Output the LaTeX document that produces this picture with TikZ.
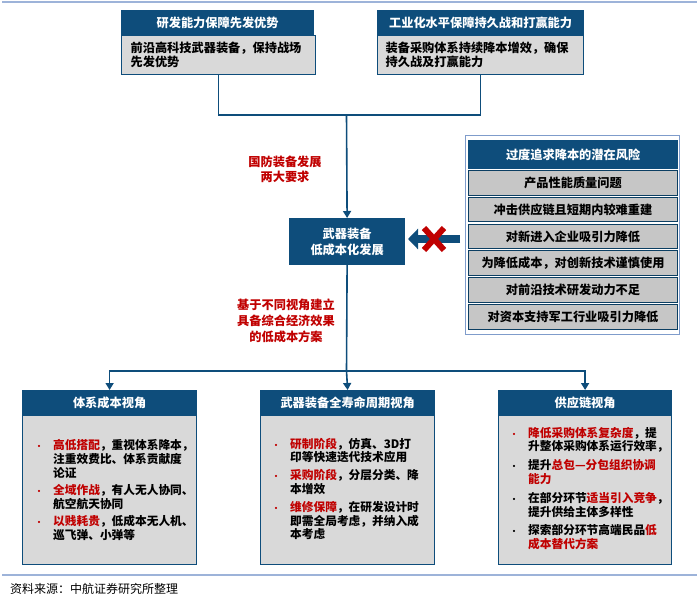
\documentclass[tikz,border=0pt]{standalone}
\usepackage{fontspec}
\setmainfont{Noto Sans CJK SC}
\usetikzlibrary{arrows.meta}
\definecolor{hdr}{HTML}{0E4D7B}
\definecolor{bodyg}{HTML}{D9D9D9}
\definecolor{rowg}{HTML}{C6C6C6}
\definecolor{redt}{HTML}{C00000}
\definecolor{rule}{HTML}{9DB3D9}
\definecolor{frame}{HTML}{7F9CCB}
\newcommand{\bul}[1]{\makebox[18pt][l]{\textcolor{#1}{\fontsize{8}{8}\selectfont •}}}
\newcommand{\ind}{\hspace*{18pt}}
\newcommand{\rt}[1]{\textcolor{redt}{#1}}
\begin{document}
\begin{tikzpicture}[x=1pt,y=-1pt,
  font=\fontsize{12.2}{13.8}\selectfont\bfseries,
  hdrbox/.style={draw=hdr,fill=hdr,line width=1.2pt,text=white,anchor=north west,inner sep=0pt},
  bodybox/.style={draw=hdr,fill=bodyg,line width=1.2pt,anchor=north west,inner sep=0pt},
  rowbox/.style={draw=hdr!80!black,fill=rowg,line width=1pt,anchor=north west,inner sep=0pt,minimum width=209pt,minimum height=24.5pt},
  conn/.style={draw=hdr,line width=1.6pt},
  arr/.style={conn,-{Triangle[width=8pt,length=7pt]}},
  redlabel/.style={text=redt,align=center,inner sep=0pt},
  bodytext/.style={anchor=west,inner sep=0pt,align=left,font=\fontsize{11.7}{13.8}\selectfont\bfseries}
]
\useasboundingbox (0,0) rectangle (700,597);
% rules
\draw[rule,line width=1.5pt] (2,2) coordinate (r1a) -- (697,2) coordinate (r1b);
\draw[rule,line width=1.5pt] (2,575) coordinate (r2a) -- (697,575) coordinate (r2b);
% top boxes
\node[hdrbox,minimum width=192pt,minimum height=25pt] (tlh) at (121,10) {研发能力保障先发优势};
\node[bodybox,minimum width=192pt,minimum height=39pt,text width=176pt,inner xsep=9pt,align=left] (tlb) at (121,35) {前沿高科技武器装备，保持战场\\先发优势};
\node[hdrbox,minimum width=206pt,minimum height=25pt] (trh) at (377,10) {工业化水平保障持久战和打赢能力};
\node[bodybox,minimum width=206pt,minimum height=39pt,text width=190pt,inner xsep=8pt,align=left] (trb) at (377,35) {装备采购体系持续降本增效，确保\\持久战及打赢能力};
% center box
\node[hdrbox,minimum width=115pt,minimum height=46pt,align=center,font=\fontsize{12.2}{16}\selectfont\bfseries] (c) at (289,218) {武器装备\\低成本化发展};
\coordinate (j1) at (346.5,115);
\coordinate (j2) at (346.5,371);
\draw[conn] (tlb.south) |- (j1) -| (trb.south);
\draw[arr] (j1) -- (c.north);
\draw[conn] (c.south) -- (j2);
% labels
\node[redlabel,font=\fontsize{12.2}{15}\selectfont\bfseries] (lab1) at (285,169.5) {国防装备发展\\两大要求};
\node[redlabel,font=\fontsize{12.2}{16}\selectfont\bfseries] (lab2) at (286,321) {基于不同视角建立\\具备综合经济效果\\的低成本方案};
% bottom boxes
\node[hdrbox,minimum width=174pt,minimum height=25pt] (blh) at (22,390) {体系成本视角};
\node[bodybox,minimum width=174pt,minimum height=149pt] (blb) at (22,415) {};
\node[hdrbox,minimum width=174pt,minimum height=25pt] (bmh) at (260,390) {武器装备全寿命周期视角};
\node[bodybox,minimum width=174pt,minimum height=149pt] (bmb) at (260,415) {};
\node[hdrbox,minimum width=173pt,minimum height=25pt] (brh) at (498,390) {供应链视角};
\node[bodybox,minimum width=173pt,minimum height=149pt] (brb) at (498,415) {};
\draw[arr] (j2) -| (blh.north);
\draw[arr] (j2) -- (bmh.north);
\draw[arr] (j2) -| (brh.north);
\node[bodytext] (blt) at (35,490) {\bul{redt}\rt{高低搭配}，重视体系降本，\\\ind 注重效费比、体系贡献度\\\ind 论证\\[3.5pt]
\bul{redt}\rt{全域作战}，有人无人协同、\\\ind 航空航天协同\\[3.5pt]
\bul{redt}\rt{以贱耗贵}，低成本无人机、\\\ind 巡飞弹、小弹等};
\node[bodytext] (bmt) at (272,489) {\bul{redt}\rt{研制阶段}，仿真、3D打\\\ind 印等快速迭代技术应用\\[4pt]
\bul{redt}\rt{采购阶段}，分层分类、降\\\ind 本增效\\[4pt]
\bul{redt}\rt{维修保障}，在研发设计时\\\ind 即需全局考虑，并纳入成\\\ind 本考虑};
\node[bodytext] (brt) at (510,488.5) {\bul{redt}\rt{降低采购体系复杂度}，提\\\ind 升整体采购体系运行效率，\\[5pt]
\bul{black}提升\rt{总包—分包组织协调}\\\ind\rt{能力}\\[5pt]
\bul{black}在部分环节\rt{适当引入竞争}，\\\ind 提升供给主体多样性\\[5pt]
\bul{black}探索部分环节高端民品\rt{低}\\\ind\rt{成本替代方案}};
% risk box
\node[draw=frame,fill=white,line width=1.2pt,anchor=north west,inner sep=0pt,minimum width=214pt,minimum height=199pt] (risk) at (465,135) {};
\node[hdrbox,minimum width=209pt,minimum height=28pt] (riskh) at (468,140) {过度追求降本的潜在风险};
\node[rowbox] (row1) at (468,170) {产品性能质量问题};
\node[rowbox] (row2) at (468,196.8) {冲击供应链且短期内较难重建};
\node[rowbox] (row3) at (468,223.6) {对新进入企业吸引力降低};
\node[rowbox] (row4) at (468,250.4) {为降低成本，对创新技术谨慎使用};
\node[rowbox] (row5) at (468,277.2) {对前沿技术研发动力不足};
\node[rowbox] (row6) at (468,304) {对资本支持军工行业吸引力降低};
% block arrow with cross
\coordinate (aend) at (460,239);
\coordinate (atip) at (408,239);
\draw[hdr,line width=8pt,-{Triangle[width=20pt,length=10pt]}] (aend) -- (atip);
\coordinate (xc) at (434,239);
\draw[redt,line width=6pt] ([shift={(-10,-11)}]xc) -- ([shift={(10,11)}]xc);
\draw[redt,line width=6pt] ([shift={(-10,11)}]xc) -- ([shift={(10,-11)}]xc);
% source
\node[anchor=west,inner sep=0pt,font=\fontsize{12}{14}\selectfont] (src) at (10,589) {资料来源：中航证券研究所整理};
\end{tikzpicture}
\end{document}
